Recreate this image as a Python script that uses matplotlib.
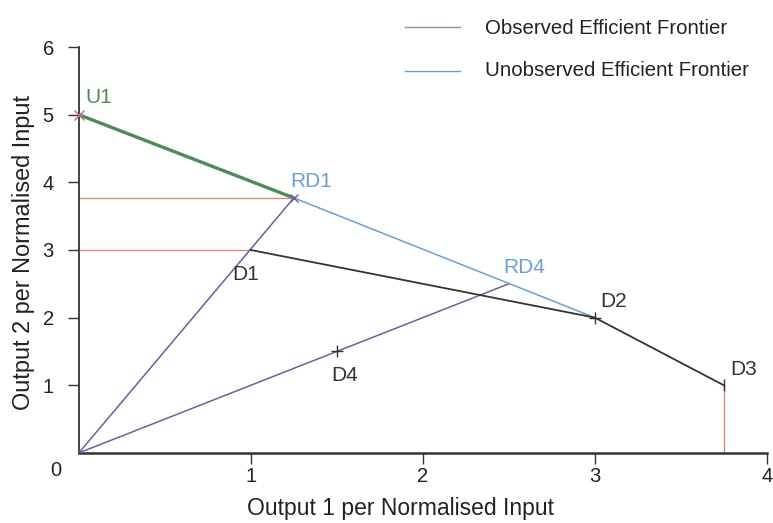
import matplotlib
matplotlib.use("Agg")
import matplotlib.pyplot as plt
from matplotlib.lines import Line2D

plt.rcParams['font.family'] = ['Liberation Sans', 'DejaVu Sans']

# Units (output 1, output 2 per normalised input)
names = ["U1", "RD1", "D1", "D2", "D3", "RD4", "D4"]
out1 = [0.0, 1.25, 1.0, 3.0, 3.75, 2.5, 1.5]
out2 = [5.0, 3.77, 3.0, 2.0, 1.0, 2.5, 1.5]
pt = dict(zip(names, zip(out1, out2)))

xticks = [1, 2, 3, 4]
yticks = [1, 2, 3, 4, 5, 6]

fig = plt.figure(figsize=(7.73, 5.23), dpi=100)
ax = fig.add_axes([0.102, 0.134, 0.890, 0.776])
ax.set_xlim(0, 4)
ax.set_ylim(0, 6)

black = "#333333"
blue = "#6a9fd2"
green = "#4e8a55"
purple = "#6b5f9e"
red = "#d98a80"

# red projections onto the axes
ax.plot([0, pt["D1"][0]], [pt["D1"][1]] * 2, color=red, lw=1.0, zorder=2)
ax.plot([0, pt["RD1"][0]], [pt["RD1"][1]] * 2, color=red, lw=1.0, zorder=2)
ax.plot([pt["D3"][0]] * 2, [0, pt["D3"][1]], color=red, lw=1.0, zorder=2)

# rays from the origin
for n in ["RD1", "RD4"]:
    ax.plot([0, pt[n][0]], [0, pt[n][1]], color=purple, lw=1.1, zorder=3)

# unobserved frontier
ax.plot([pt["RD1"][0], pt["D2"][0]], [pt["RD1"][1], pt["D2"][1]], color=blue, lw=1.1, zorder=3)
ax.plot([pt["U1"][0], pt["RD1"][0]], [pt["U1"][1], pt["RD1"][1]], color=green, lw=2.4, zorder=4)

# observed frontier
obs = ["D1", "D2", "D3"]
ax.plot([pt[n][0] for n in obs], [pt[n][1] for n in obs], color=black, lw=1.3, zorder=4)

# markers
ax.plot(*pt["U1"], marker="x", color="#b07090", ms=7, mew=1.0, zorder=5, clip_on=False)
ax.plot(*pt["RD1"], marker="x", color=purple, ms=6, mew=1.0, zorder=5)
for n in ["D2", "D4"]:
    ax.plot(*pt[n], marker="+", color=black, ms=9, mew=1.0, zorder=5)
ax.plot(*pt["D3"], marker="|", color=black, ms=9, mew=1.0, zorder=5)

# point labels
fs = 15
ax.text(0.04, 5.12, "U1", color=green, fontsize=fs, ha="left", va="bottom")
ax.text(1.23, 3.87, "RD1", color=blue, fontsize=fs, ha="left", va="bottom")
ax.text(2.47, 2.6, "RD4", color=blue, fontsize=fs, ha="left", va="bottom")
ax.text(0.89, 2.5, "D1", color=black, fontsize=fs, ha="left", va="bottom")
ax.text(3.03, 2.1, "D2", color=black, fontsize=fs, ha="left", va="bottom")
ax.text(3.79, 1.1, "D3", color=black, fontsize=fs, ha="left", va="bottom")
ax.text(1.47, 1.0, "D4", color=black, fontsize=fs, ha="left", va="bottom")

# axes styling
for s in ["top", "right"]:
    ax.spines[s].set_visible(False)
ax.spines["left"].set_color(black)
ax.spines["bottom"].set_color(black)
ax.spines["left"].set_linewidth(1.3)
ax.spines["bottom"].set_linewidth(1.8)
ax.set_xticks(xticks)
ax.set_yticks(yticks)
ax.tick_params(axis="both", colors=black, labelcolor="#222222", labelsize=14.5, length=8, width=1.0)
ax.tick_params(axis="y", pad=10)
ax.tick_params(axis="x", pad=2)
ax.text(-0.1, -0.12, "0", fontsize=14.5, color="#222222", ha="right", va="top")

ax.set_xlabel("Output 1 per Normalised Input", fontsize=16.5, color="#222222", va="center")
ax.xaxis.set_label_coords(0.468, -0.136)
ax.set_ylabel("Output 2 per Normalised Input", fontsize=16.9, color="#222222", va="center")
ax.yaxis.set_label_coords(-0.080, 0.495)

# legend drawn in figure coordinates
fig.add_artist(Line2D([405 / 773, 460 / 773], [1 - 27 / 523] * 2, color="#7f96b0", lw=1.0))
fig.add_artist(Line2D([405 / 773, 460 / 773], [1 - 71 / 523] * 2, color=blue, lw=1.0))
fig.text(485 / 773, 1 - 28 / 523, "Observed Efficient Frontier", fontsize=14.7, color="#222222", va="center")
fig.text(485 / 773, 1 - 71 / 523, "Unobserved Efficient Frontier", fontsize=14.7, color="#222222", va="center")

fig.savefig("out.png", dpi=100)
